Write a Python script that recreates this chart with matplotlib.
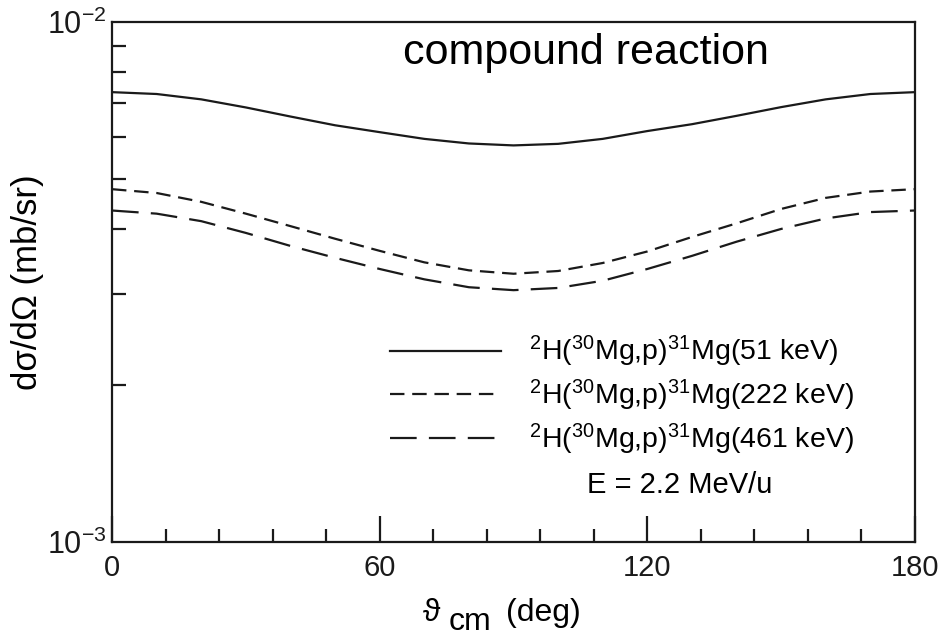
import numpy as np
import matplotlib
matplotlib.use("Agg")
import matplotlib.pyplot as plt
from matplotlib.ticker import MultipleLocator, LogLocator, NullFormatter, LogFormatterSciNotation

plt.rcParams['font.family'] = ['Liberation Sans', 'DejaVu Sans']
plt.rcParams['mathtext.fontset'] = 'custom'
plt.rcParams['mathtext.rm'] = 'Liberation Sans'
plt.rcParams['mathtext.it'] = 'Liberation Sans:italic'
plt.rcParams['mathtext.default'] = 'regular'
plt.rcParams['axes.unicode_minus'] = False

# angles (deg) and cross sections (mb/sr)
theta = [0, 10, 20, 30, 40, 50, 60, 70, 80, 90,
         100, 110, 120, 130, 140, 150, 160, 170, 180]
xs_51 = [0.00733, 0.00727, 0.00710, 0.00685, 0.00658, 0.00633, 0.00614, 0.00596, 0.00584, 0.00579,
         0.00583, 0.00596, 0.00617, 0.00636, 0.00660, 0.00686, 0.00710, 0.00727, 0.00733]
xs_222 = [0.00477, 0.00469, 0.00451, 0.00428, 0.00405, 0.00383, 0.00363, 0.00345, 0.00333, 0.00328,
          0.00332, 0.00344, 0.00362, 0.00386, 0.00410, 0.00437, 0.00459, 0.00472, 0.00477]
xs_461 = [0.00434, 0.00428, 0.00414, 0.00393, 0.00371, 0.00352, 0.00335, 0.00320, 0.00309, 0.00305,
          0.00308, 0.00318, 0.00335, 0.00355, 0.00378, 0.00400, 0.00419, 0.00431, 0.00434]

labels = [r'$^{2}$H($^{30}$Mg,p)$^{31}$Mg(51 keV)',
          r'$^{2}$H($^{30}$Mg,p)$^{31}$Mg(222 keV)',
          r'$^{2}$H($^{30}$Mg,p)$^{31}$Mg(461 keV)']

W, H = 946, 637
fig = plt.figure(figsize=(W / 100, H / 100), dpi=100)
ax = fig.add_axes([112 / W, 1 - 542 / H, 803 / W, 520 / H])

ink = '#1a1a1a'
ax.plot(theta, xs_51, color=ink, lw=1.6, label=labels[0])
ax.plot(theta, xs_222, color=ink, lw=1.6, dashes=(6.5, 3.5), label=labels[1])
ax.plot(theta, xs_461, color=ink, lw=1.6, dashes=(12, 5.5), label=labels[2])

ax.set_yscale('log')
ax.set_xlim(0, 180)
ax.set_ylim(1e-3, 1e-2)

ax.xaxis.set_major_locator(MultipleLocator(60))
ax.xaxis.set_minor_locator(MultipleLocator(12))
ax.yaxis.set_major_locator(LogLocator(base=10))
ax.yaxis.set_major_formatter(LogFormatterSciNotation())
ax.yaxis.set_minor_locator(LogLocator(base=10, subs=np.arange(2, 10)))
ax.yaxis.set_minor_formatter(NullFormatter())

ax.tick_params(which='both', direction='in', top=False, right=False, width=1.6, colors=ink)
ax.tick_params(axis='x', which='major', length=19, labelsize=21, pad=9)
ax.tick_params(axis='x', which='minor', length=9.5)
ax.tick_params(axis='y', which='major', length=0, labelsize=22, pad=4)
ax.tick_params(axis='y', which='minor', length=10)

for sp in ax.spines.values():
    sp.set_linewidth(1.6)
    sp.set_color(ink)

ax.set_ylabel('dσ/dΩ (mb/sr)', fontsize=25, labelpad=2)

# x label pieces: theta, lowered "cm", then "(deg)"
fig.text(422 / W, 1 - 621 / H, r'$\vartheta$', fontsize=23, ha='left', va='baseline',
         math_fontfamily='dejavuserif')
fig.text(449 / W, 1 - 630 / H, 'cm', fontsize=23, ha='left', va='baseline')
fig.text(506 / W, 1 - 621 / H, '(deg)', fontsize=23, ha='left', va='baseline')

ax.text(0.59, 0.919, 'compound reaction', transform=ax.transAxes,
        ha='center', va='baseline', fontsize=31)

leg = ax.legend(loc='upper left', bbox_to_anchor=(0.346, 0.40), frameon=False,
                fontsize=20.5, handlelength=3.9, handletextpad=1.0,
                labelspacing=0.3, borderpad=0, borderaxespad=0)

ax.text(0.707, 0.11, 'E = 2.2 MeV/u', transform=ax.transAxes,
        ha='center', va='center', fontsize=21)

fig.savefig('out.png', dpi=100)
